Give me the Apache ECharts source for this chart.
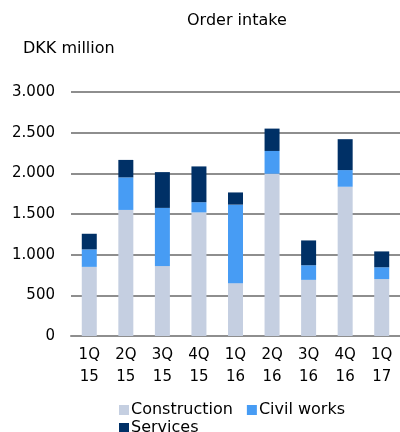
<!DOCTYPE html>
<html>
<head>
<meta charset="utf-8">
<script src="https://cdn.jsdelivr.net/npm/echarts@6/dist/echarts.min.js"></script>
<style>
  html, body { margin: 0; padding: 0; background: #fff; }
  #container { width: 400px; height: 432px; }
</style>
</head>
<body>
<div id="container"></div>
<script>
var quarters = ['1Q\n15', '2Q\n15', '3Q\n15', '4Q\n15', '1Q\n16', '2Q\n16', '3Q\n16', '4Q\n16', '1Q\n17'];
var construction = [850, 1550, 860, 1520, 650, 1995, 690, 1835, 700];
var civilWorks = [215, 400, 715, 125, 965, 280, 180, 205, 145];
var services = [192, 215, 440, 440, 150, 275, 305, 380, 195];

var font = 'DejaVu Sans';
var dom = document.getElementById('container');
var myChart = echarts.init(dom, null, { renderer: 'canvas' });
var option;

function fmt(v) {
  return String(v).replace(/\B(?=(\d{3})+(?!\d))/g, '.');
}

option = {
  backgroundColor: '#fff',
  animation: false,
  title: [
    {
      text: 'Order intake',
      left: 182,
      top: 8,
      textStyle: { fontFamily: font, fontSize: 16, fontWeight: 'normal', color: '#000' }
    },
    {
      text: 'DKK million',
      left: 18,
      top: 36,
      textStyle: { fontFamily: font, fontSize: 16, fontWeight: 'normal', color: '#000' }
    }
  ],
  legend: [
    {
      data: ['Construction', 'Civil works'],
      left: 119,
      top: 402,
      itemWidth: 10,
      itemHeight: 10,
      itemGap: 14,
      padding: 0,
      icon: 'rect',
      textStyle: { fontFamily: font, fontSize: 16, color: '#000', padding: [0, 0, 0, -3] }
    },
    {
      data: ['Services'],
      left: 119,
      top: 420,
      itemWidth: 10,
      itemHeight: 10,
      padding: 0,
      icon: 'rect',
      textStyle: { fontFamily: font, fontSize: 16, color: '#000', padding: [0, 0, 0, -3] }
    }
  ],
  grid: { left: 71, right: 0, top: 92, bottom: 96 },
  xAxis: {
    type: 'category',
    data: quarters,
    axisTick: { show: false },
    axisLine: { lineStyle: { color: '#8e8e8e', width: 2 } },
    axisLabel: { fontFamily: font, fontSize: 15, color: '#000', lineHeight: 22, margin: 8 }
  },
  yAxis: {
    type: 'value',
    min: 0,
    max: 3000,
    interval: 500,
    axisLine: { show: false },
    axisTick: { show: false },
    splitLine: { lineStyle: { color: '#8e8e8e', width: 2 } },
    axisLabel: { fontFamily: font, fontSize: 15, color: '#000', margin: 16, formatter: fmt }
  },
  series: [
    {
      name: 'Construction',
      type: 'bar',
      stack: 'total',
      barWidth: 15,
      data: construction,
      itemStyle: { color: '#c5cfe1' }
    },
    {
      name: 'Civil works',
      type: 'bar',
      stack: 'total',
      barWidth: 15,
      data: civilWorks,
      itemStyle: { color: '#479cf4' }
    },
    {
      name: 'Services',
      type: 'bar',
      stack: 'total',
      barWidth: 15,
      data: services,
      itemStyle: { color: '#003066' }
    }
  ]
};

myChart.setOption(option);
window.addEventListener('resize', myChart.resize);
</script>
</body>
</html>
